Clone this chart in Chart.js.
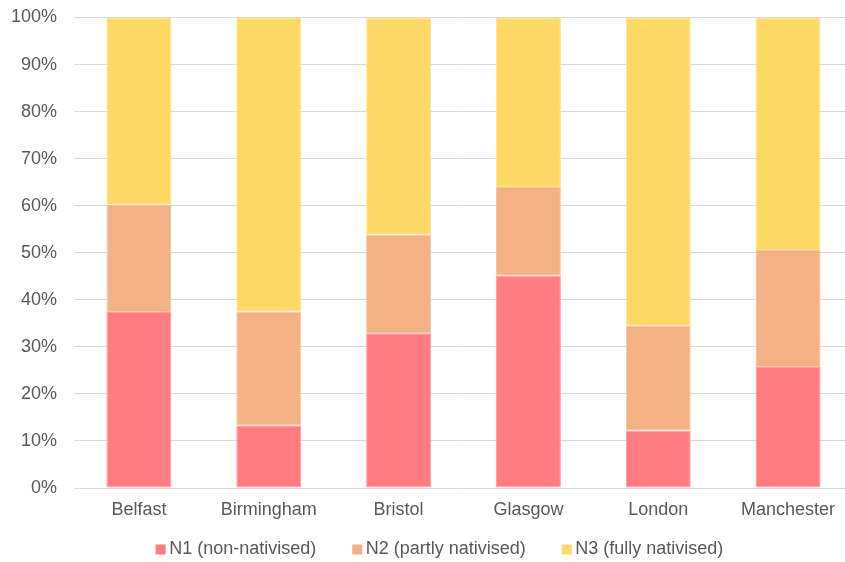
<!DOCTYPE html>
<html>
<head>
<meta charset="utf-8">
<script src="https://cdn.jsdelivr.net/npm/chart.js@4"></script>
<style>
  html, body { margin: 0; padding: 0; background: #ffffff; overflow: hidden; }
  #wrap { position: relative; width: 853px; height: 562px; }
</style>
</head>
<body>
<div id="wrap"><canvas id="chart"></canvas></div>
<script>
// Share of nativisation levels per city (percent)
const cities = ['Belfast', 'Birmingham', 'Bristol', 'Glasgow', 'London', 'Manchester'];
const n1Values = [37.4, 13.3, 32.9, 45.1, 12.2, 25.7];
const n2Values = [22.8, 24.2, 20.9, 18.9, 22.3, 24.9];
const n3Values = [39.8, 62.5, 46.2, 36.0, 65.5, 49.4];
const seriesNames = ['N1 (non-nativised)', 'N2 (partly nativised)', 'N3 (fully nativised)'];
const yTicks = [0, 10, 20, 30, 40, 50, 60, 70, 80, 90, 100];

const fills = ['#FF7C80', '#F4B183', '#FFD966'];
const edges = ['#FF9EA1', '#F7C39E', '#FFE38A'];
const textColor = '#595959';
const fontFamily = '"Liberation Sans", Arial, sans-serif';

// Legend with a tight gap between swatch and label
const compactLegend = {
  id: 'compactLegend',
  afterDraw(chart) {
    const ctx = chart.ctx;
    ctx.save();
    ctx.font = '18px ' + fontFamily;
    ctx.textBaseline = 'middle';
    ctx.textAlign = 'left';
    const box = 10, gap = 3.5, spacing = 36;
    const items = chart.data.datasets.map(ds => ({
      label: ds.label, color: ds.backgroundColor, w: box + gap + ctx.measureText(ds.label).width
    }));
    const total = items.reduce((s, it) => s + it.w, 0) + spacing * (items.length - 1);
    let x = 439.5 - total / 2;
    const cy = 549.5;
    items.forEach(it => {
      ctx.fillStyle = it.color;
      ctx.fillRect(x, cy - box / 2, box, box);
      ctx.fillStyle = textColor;
      ctx.fillText(it.label, x + box + gap, cy);
      x += it.w + spacing;
    });
    ctx.restore();
  }
};

const dataSets = [n1Values, n2Values, n3Values].map((vals, i) => ({
  label: seriesNames[i],
  data: vals,
  backgroundColor: fills[i],
  borderColor: edges[i],
  borderWidth: 1,
  borderSkipped: false,
  barPercentage: 0.5,
  categoryPercentage: 1.0
}));

new Chart(document.getElementById('chart'), {
  type: 'bar',
  data: { labels: cities, datasets: dataSets },
  plugins: [compactLegend],
  options: {
    responsive: true,
    maintainAspectRatio: false,
    animation: false,
    layout: { padding: { top: 17.5, right: 0, bottom: 42, left: 0 } },
    plugins: {
      legend: { display: false },
      tooltip: { enabled: false }
    },
    scales: {
      x: {
        stacked: true,
        grid: { display: false, drawTicks: false },
        border: { display: false },
        ticks: {
          color: textColor,
          font: { family: fontFamily, size: 18 },
          padding: 11,
          maxRotation: 0
        },
        afterFit(scale) { scale.height = 32; scale.paddingLeft = 0; scale.paddingRight = 0; }
      },
      y: {
        stacked: true,
        min: 0,
        max: 100,
        afterBuildTicks(scale) { scale.ticks = yTicks.map(v => ({ value: v })); },
        grid: { color: '#D9D9D9', lineWidth: 1, drawTicks: false },
        border: { display: false },
        ticks: {
          color: textColor,
          font: { family: fontFamily, size: 18 },
          padding: 17,
          callback: v => v + '%'
        },
        afterFit(scale) { scale.width = 74; scale.paddingTop = 0; scale.paddingBottom = 0; }
      }
    }
  }
});
</script>
</body>
</html>
